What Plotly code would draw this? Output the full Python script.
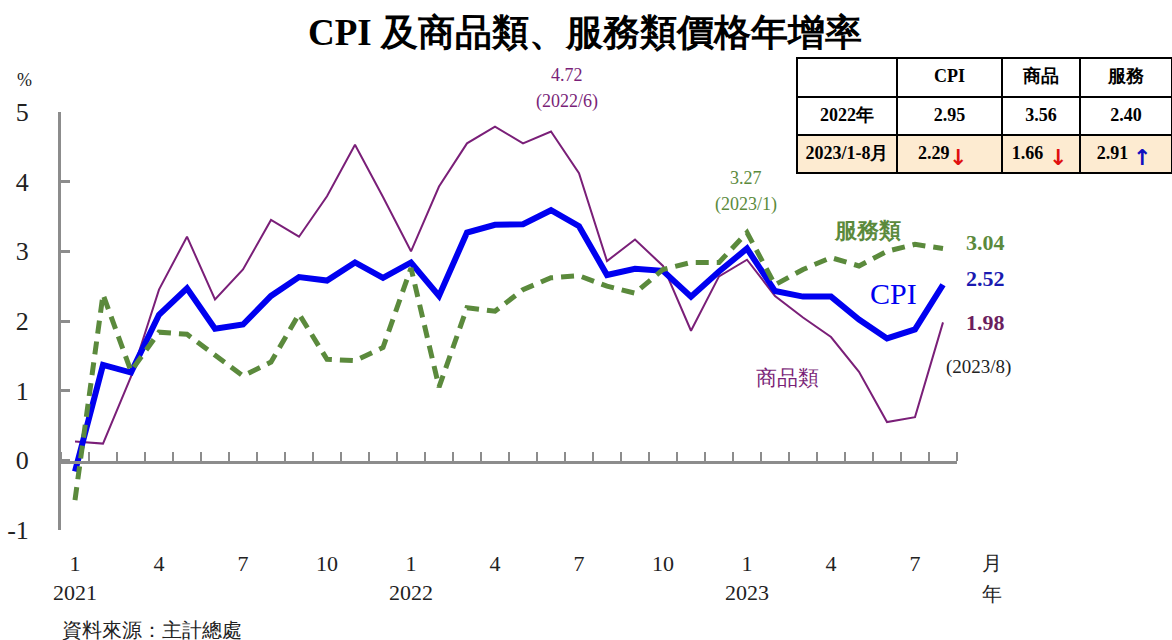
import plotly.graph_objects as go

# months Jan 2021 .. Aug 2023
month_idx = list(range(32))
tick_pos = [0, 3, 6, 9, 12, 15, 18, 21, 24, 27, 30]
tick_text = ["1<br>2021", "4", "7", "10", "1<br>2022", "4", "7", "10",
             "1<br>2023", "4", "7"]
y_ticks = [-1, 0, 1, 2, 3, 4, 5]
y_text = ["-1", "0", "1", "2", "3", "4", "5"]

cpi = [-0.16, 1.37, 1.26, 2.09, 2.47, 1.89, 1.95, 2.36, 2.63, 2.58, 2.84, 2.62,
       2.84, 2.36, 3.27, 3.38, 3.39, 3.59, 3.36, 2.66, 2.75, 2.72, 2.35, 2.71,
       3.04, 2.43, 2.35, 2.35, 2.02, 1.75, 1.88, 2.52]
goods = [0.27, 0.24, 1.20, 2.45, 3.21, 2.31, 2.74, 3.45, 3.21, 3.79, 4.53, 3.78,
         3.00, 3.93, 4.55, 4.79, 4.55, 4.72, 4.12, 2.86, 3.17, 2.79, 1.86, 2.64,
         2.88, 2.36, 2.05, 1.77, 1.27, 0.55, 0.62, 1.98]
services = [-0.57, 2.38, 1.28, 1.84, 1.81, 1.52, 1.21, 1.41, 2.10, 1.45, 1.43, 1.62,
            2.76, 1.05, 2.19, 2.14, 2.45, 2.62, 2.65, 2.50, 2.40, 2.74, 2.84, 2.84,
            3.27, 2.52, 2.74, 2.91, 2.79, 3.00, 3.10, 3.04]

# summary table
tbl_header = ["", "CPI", "商品", "服務"]
tbl_rows = ["2022年", "2023/1-8月"]
tbl_cpi = [2.95, 2.29]
tbl_goods = [3.56, 1.66]
tbl_services = [2.40, 2.91]
tbl_arrows = ["↓", "↓", "↑"]

W, H = 1172, 640
SERIF = "Liberation Serif"
GREEN = "#5b8a3c"
PURPLE = "#7a1f78"
BLUE = "#0000f0"
GRAY = "#8c8c8c"
NB = "\u00a0"


def px(x):
    return x / W


def py(y):
    return 1 - y / H


fig = go.Figure()
fig.add_trace(go.Scatter(x=month_idx, y=goods, mode="lines", name="商品類",
                         line=dict(color=PURPLE, width=2)))
fig.add_trace(go.Scatter(x=month_idx, y=cpi, mode="lines", name="CPI",
                         line=dict(color=BLUE, width=6)))
fig.add_trace(go.Scatter(x=month_idx, y=services, mode="lines", name="服務類",
                         line=dict(color=GREEN, width=5, dash="13px,8px")))

cells = [
    ["<b>%s</b>" % r for r in tbl_rows],
    ["<b>%.2f</b>" % tbl_cpi[0], "<b>%.2f</b>%s" % (tbl_cpi[1], NB * 7)],
    ["<b>%.2f</b>" % tbl_goods[0], "<b>%.2f</b>%s" % (tbl_goods[1], NB * 6)],
    ["<b>%.2f</b>" % tbl_services[0], "<b>%.2f</b>%s" % (tbl_services[1], NB * 6)],
]
fig.add_trace(go.Table(
    domain=dict(x=[px(797), 1.0], y=[py(176), py(58)]),
    columnwidth=[100, 105, 78, 92],
    header=dict(values=["<b>%s</b>" % h for h in tbl_header], height=39,
                fill_color="white", line=dict(color="black", width=2),
                font=dict(family=SERIF, size=18, color="black"), align="center"),
    cells=dict(values=cells, height=38,
               fill_color=[["white", "#fdebd1"]] * 4,
               line=dict(color="black", width=2),
               font=dict(family=SERIF, size=18, color="black"), align="center"),
))

ann = [
    dict(x=px(585), y=py(33), text="<b>CPI 及商品類、服務類價格年增率</b>",
         font=dict(size=37, color="black")),
    dict(x=px(24), y=py(80), text="%", font=dict(size=18, color="#222")),
    dict(x=px(567), y=py(75), text="4.72", font=dict(size=18, color=PURPLE)),
    dict(x=px(567), y=py(101), text="(2022/6)", font=dict(size=18, color=PURPLE)),
    dict(x=px(746), y=py(178), text="3.27", font=dict(size=18, color=GREEN)),
    dict(x=px(746), y=py(204), text="(2023/1)", font=dict(size=18, color=GREEN)),
    dict(x=px(867), y=py(230), text="<b>服務類</b>", font=dict(size=22, color=GREEN)),
    dict(x=px(985), y=py(242), text="<b>3.04</b>", font=dict(size=22, color=GREEN)),
    dict(x=px(893), y=py(293), text="CPI", font=dict(size=30, color=BLUE)),
    dict(x=px(985), y=py(278), text="<b>2.52</b>", font=dict(size=22, color="#1a1ab0")),
    dict(x=px(985), y=py(322), text="<b>1.98</b>", font=dict(size=22, color="#6b1e5e")),
    dict(x=px(978), y=py(367), text="(2023/8)", font=dict(size=19, color="#222")),
    dict(x=px(787), y=py(378), text="商品類", font=dict(size=21, color=PURPLE)),
    dict(x=px(992), y=py(563), text="月", font=dict(size=20, color="#222")),
    dict(x=px(992), y=py(594), text="年", font=dict(size=20, color="#222")),
    dict(x=px(60), y=py(630), text="資料來源：主計總處", xanchor="left",
         font=dict(size=20, color="#222")),
]
# arrows in the 2023 row of the table
for xa, sym in zip([958, 1058, 1142], tbl_arrows):
    ann.append(dict(x=px(xa), y=py(158), text="<b>%s</b>" % sym,
                    font=dict(size=22, color="#1010c0" if sym == "↑" else "#e01010",
                              family="DejaVu Sans")))
for a in ann:
    a.setdefault("xanchor", "center")
    a.update(xref="paper", yref="paper", yanchor="middle", showarrow=False)
    a["font"].setdefault("family", SERIF)

fig.update_layout(
    width=W, height=H,
    margin=dict(l=0, r=0, t=0, b=0, autoexpand=False),
    paper_bgcolor="white", plot_bgcolor="white",
    showlegend=False,
    font=dict(family=SERIF, color="#222"),
    annotations=ann,
    xaxis=dict(domain=[px(61), px(957)], range=[-0.5, 31.5], automargin=False,
               anchor="free", position=py(461.7),
               showline=True, linecolor=GRAY, linewidth=3,
               showgrid=False, zeroline=False,
               tickmode="array", tickvals=tick_pos, ticktext=tick_text,
               ticks="", ticklabelstandoff=81,
               tickfont=dict(size=22, family=SERIF, color="#222"),
               minor=dict(ticks="inside", tick0=-0.5, dtick=1, ticklen=9,
                          tickwidth=2, tickcolor=GRAY, showgrid=False)),
    yaxis=dict(domain=[py(530), py(112)], range=[-1, 5], automargin=False,
               showline=True, linecolor=GRAY, linewidth=3,
               showgrid=False, zeroline=False,
               tickmode="array", tickvals=y_ticks, ticktext=y_text,
               ticks="inside", ticklen=9, tickwidth=3, tickcolor=GRAY,
               ticklabelstandoff=24,
               tickfont=dict(size=26, family=SERIF, color="#222")),
)

# the page's default body margin would shift the 1172x640 figure
fig.write_html("out.html", config={"displayModeBar": False},
               post_script="document.body.style.margin='0';")
